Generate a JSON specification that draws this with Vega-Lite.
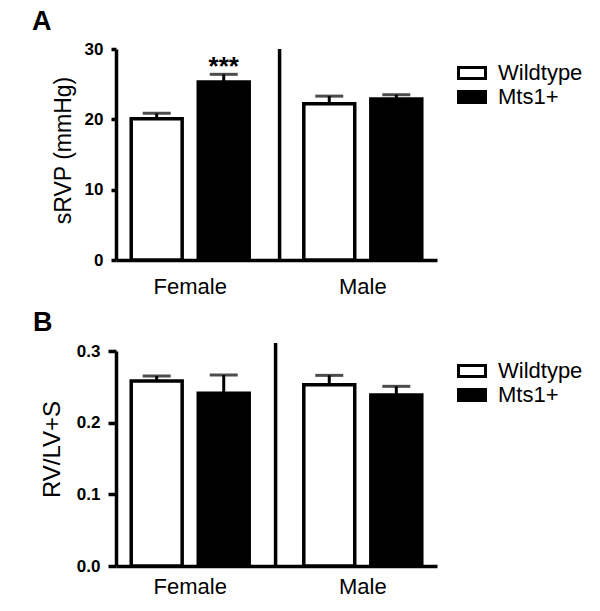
{
  "$schema": "https://vega.github.io/schema/vega-lite/v6.json",
  "background": "white",
  "padding": {"left": 32, "top": 8, "right": 5, "bottom": 5},
  "spacing": 12,
  "resolve": {"scale": {"fill": "independent", "x": "independent", "xOffset": "independent", "y": "independent"}, "legend": {"fill": "independent"}},
  "datasets": {
    "srvp": [
      {"sex": "Female", "genotype": "Wildtype", "value": 20.1, "hi": 20.85, "sig": ""},
      {"sex": "Female", "genotype": "Mts1+", "value": 25.3, "hi": 26.4, "sig": "***"},
      {"sex": "Male", "genotype": "Wildtype", "value": 22.2, "hi": 23.3, "sig": ""},
      {"sex": "Male", "genotype": "Mts1+", "value": 22.9, "hi": 23.5, "sig": ""}
    ],
    "ratio": [
      {"sex": "Female", "genotype": "Wildtype", "value": 0.258, "hi": 0.265},
      {"sex": "Female", "genotype": "Mts1+", "value": 0.241, "hi": 0.2665},
      {"sex": "Male", "genotype": "Wildtype", "value": 0.253, "hi": 0.266},
      {"sex": "Male", "genotype": "Mts1+", "value": 0.2386, "hi": 0.2507}
    ],
    "divider": [{"sex": "Male"}]
  },
  "config": {
    "font": "Liberation Sans",
    "view": {"stroke": null},
    "axis": {
      "domainColor": "black", "domainWidth": 3.5, "tickColor": "black", "tickWidth": 3.5,
      "labelColor": "black", "titleColor": "black", "grid": false,
      "labelFont": "Liberation Sans", "titleFont": "Liberation Sans", "titleFontWeight": "normal"
    },
    "legend": {
      "labelFont": "Liberation Sans", "labelColor": "black", "labelFontSize": 22,
      "symbolType": "M-1.42,-0.58H1.42V0.58H-1.42Z", "symbolSize": 361,
      "symbolStrokeColor": "black", "symbolStrokeWidth": 3, "rowPadding": 0,
      "labelOffset": 15, "padding": 0
    },
    "title": {"font": "Liberation Sans", "fontSize": 27, "fontWeight": "bold", "color": "black", "anchor": "start", "frame": "group"}
  },
  "vconcat": [
    {
      "title": {"text": "A", "dx": -84, "offset": 4},
      "width": 321,
      "height": 211,
      "data": {"name": "srvp"},
      "encoding": {
        "x": {"field": "sex", "type": "nominal", "sort": ["Female", "Male"],
          "scale": {"paddingInner": 0.14, "paddingOuter": 0},
          "axis": {"title": null, "labelAngle": 0, "ticks": false, "labelFontSize": 22, "labelPadding": 16}},
        "xOffset": {"field": "genotype", "type": "nominal", "sort": ["Wildtype", "Mts1+"],
          "scale": {"paddingInner": 0.24, "paddingOuter": 0.227}}
      },
      "layer": [
        {
          "mark": {"type": "bar", "stroke": "black", "strokeWidth": 3.5},
          "encoding": {
            "y": {"field": "value", "type": "quantitative",
              "scale": {"domain": [0, 30], "nice": false},
              "axis": {"values": [0, 10, 20, 30], "labelFontSize": 17, "labelFontWeight": "bold",
                "tickSize": 5, "labelPadding": 8, "title": "sRVP (mmHg)", "titleFontSize": 23, "titlePadding": 9, "titleY": 101}},
            "fill": {"field": "genotype", "type": "nominal",
              "scale": {"domain": ["Wildtype", "Mts1+"], "range": ["white", "black"]},
              "legend": {"title": null, "orient": "none", "legendX": 345, "legendY": 13}}
          }
        },
        {
          "mark": {"type": "rule", "color": "black", "strokeWidth": 3},
          "encoding": {
            "y": {"field": "value", "type": "quantitative"},
            "y2": {"field": "hi"}
          }
        },
        {
          "mark": {"type": "tick", "color": "black", "size": 28, "thickness": 3, "orient": "horizontal"},
          "encoding": {
            "y": {"field": "hi", "type": "quantitative"}
          }
        },
        {
          "mark": {"type": "text", "font": "Liberation Sans", "fontWeight": "bold", "fontSize": 26, "baseline": "alphabetic", "dy": 1, "color": "black"},
          "encoding": {
            "y": {"field": "hi", "type": "quantitative"},
            "text": {"field": "sig"}
          }
        },
        {
          "data": {"name": "divider"},
          "mark": {"type": "rule", "color": "black", "strokeWidth": 3.5, "xOffset": -9},
          "encoding": {
            "x": {"field": "sex", "type": "nominal", "bandPosition": 0},
            "xOffset": null,
            "y": {"datum": 0, "type": "quantitative"},
            "y2": {"datum": 30}
          }
        }
      ]
    },
    {
      "title": {"text": "B", "dx": -83, "offset": 4},
      "width": 321,
      "height": 215,
      "data": {"name": "ratio"},
      "encoding": {
        "x": {"field": "sex", "type": "nominal", "sort": ["Female", "Male"],
          "scale": {"paddingInner": 0.14, "paddingOuter": 0},
          "axis": {"title": null, "labelAngle": 0, "ticks": false, "labelFontSize": 22, "labelPadding": 10}},
        "xOffset": {"field": "genotype", "type": "nominal", "sort": ["Wildtype", "Mts1+"],
          "scale": {"paddingInner": 0.24, "paddingOuter": 0.227}}
      },
      "layer": [
        {
          "mark": {"type": "bar", "stroke": "black", "strokeWidth": 3.5},
          "encoding": {
            "y": {"field": "value", "type": "quantitative",
              "scale": {"domain": [0, 0.3], "nice": false},
              "axis": {"values": [0, 0.1, 0.2, 0.3], "format": ".1f", "labelFontSize": 17, "labelFontWeight": "bold",
                "tickSize": 8, "labelPadding": 8, "title": "RV/LV+S", "titleFontSize": 24, "titlePadding": 12, "titleY": 98}},
            "fill": {"field": "genotype", "type": "nominal",
              "scale": {"domain": ["Wildtype", "Mts1+"], "range": ["white", "black"]},
              "legend": {"title": null, "orient": "none", "legendX": 345, "legendY": 9}}
          }
        },
        {
          "mark": {"type": "rule", "color": "black", "strokeWidth": 3},
          "encoding": {
            "y": {"field": "value", "type": "quantitative"},
            "y2": {"field": "hi"}
          }
        },
        {
          "mark": {"type": "tick", "color": "black", "size": 28, "thickness": 3, "orient": "horizontal"},
          "encoding": {
            "y": {"field": "hi", "type": "quantitative"}
          }
        },
        {
          "data": {"name": "divider"},
          "mark": {"type": "rule", "color": "black", "strokeWidth": 3.5, "xOffset": -13},
          "encoding": {
            "x": {"field": "sex", "type": "nominal", "bandPosition": 0},
            "xOffset": null,
            "y": {"datum": 0, "type": "quantitative"},
            "y2": {"datum": 0.311}
          }
        }
      ]
    }
  ]
}
